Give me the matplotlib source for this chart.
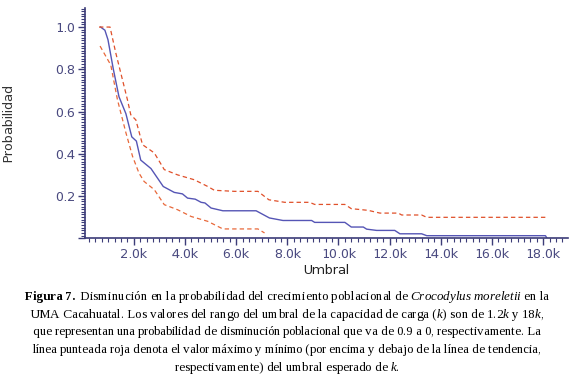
import matplotlib

matplotlib.use("Agg")
import matplotlib.pyplot as plt
from matplotlib.ticker import FuncFormatter, MultipleLocator

# trend (blue) line, threshold in k vs probability
trend_x = [0.70, 0.87, 0.99, 1.20, 1.42, 1.69, 1.92, 2.10, 2.27, 2.67, 3.15, 3.58, 3.90,
           4.10, 4.40, 4.63, 4.78, 5.02, 5.48, 6.78, 7.30, 7.83, 8.95, 9.07, 10.25, 10.50,
           10.97, 11.10, 11.49, 12.20, 12.40, 13.25, 13.45, 18.09, 18.15]
trend_y = [1.00, 0.985, 0.94, 0.80, 0.67, 0.59, 0.48, 0.46, 0.37, 0.33, 0.245, 0.217, 0.21,
           0.19, 0.185, 0.17, 0.167, 0.143, 0.13, 0.13, 0.096, 0.084, 0.084, 0.075, 0.075, 0.053,
           0.053, 0.043, 0.037, 0.037, 0.021, 0.021, 0.012, 0.012, 0.0]

# upper limit (red dashed)
upper_x = [0.64, 1.07, 1.29, 1.75, 1.88, 2.08, 2.34, 2.80, 3.19, 3.71, 4.36, 4.89, 5.15,
           5.93, 6.85, 7.28, 7.90, 8.87, 9.07, 10.25, 10.50, 11.16, 11.62, 12.34, 12.47,
           13.25, 13.45, 18.16]
upper_y = [1.00, 1.00, 0.88, 0.656, 0.585, 0.56, 0.443, 0.404, 0.325, 0.30, 0.277, 0.245, 0.227,
           0.222, 0.222, 0.182, 0.17, 0.17, 0.16, 0.16, 0.14, 0.132, 0.119, 0.119, 0.11,
           0.11, 0.099, 0.099]

# lower limit (red dashed)
lower_x = [0.68, 1.10, 1.36, 1.69, 1.95, 2.20, 2.40, 2.80, 3.19, 3.71, 4.24, 4.89, 5.48, 6.85, 7.11]
lower_y = [0.91, 0.82, 0.656, 0.50, 0.388, 0.309, 0.269, 0.23, 0.159, 0.135, 0.103, 0.08, 0.044,
           0.044, 0.025]

caption_lines = [
    r"$\mathbf{Figura\ 7.}$ Disminución en la probabilidad del crecimiento poblacional de "
    r"$\mathit{Crocodylus\ moreletii}$ en la",
    r"UMA Cacahuatal. Los valores del rango del umbral de la capacidad de carga ($\mathit{k}$) "
    r"son de 1.2$\mathit{k}$ y 18$\mathit{k}$,",
    "que representan una probabilidad de disminución poblacional que va de 0.9 a 0, "
    "respectivamente. La",
    "línea punteada roja denota el valor máximo y mínimo (por encima y debajo de la línea de "
    "tendencia,",
    r"respectivamente) del umbral esperado de $\mathit{k}$.",
]

plt.rcParams["text.hinting_factor"] = 1
plt.rcParams["mathtext.fontset"] = "custom"
plt.rcParams["mathtext.rm"] = "Liberation Serif"
plt.rcParams["mathtext.it"] = "Liberation Serif:italic"
plt.rcParams["mathtext.bf"] = "Liberation Serif:bold"

navy = "#3c3c78"
fig = plt.figure(figsize=(5.74, 3.83), dpi=100)
ax = fig.add_axes([0.148, 0.378, 0.8415, 0.601])

ax.plot(trend_x, trend_y, color="#5555b5", lw=1.0)
ax.plot(upper_x, upper_y, color="#e0502a", lw=0.9, dashes=(3.5, 2.5))
ax.plot(lower_x, lower_y, color="#e8683a", lw=0.9, dashes=(3.5, 2.5))

ax.set_xlim(0.09, 18.97)
ax.set_ylim(0, 1.09)
ax.xaxis.set_major_locator(MultipleLocator(2))
ax.xaxis.set_minor_locator(MultipleLocator(0.25))
ax.yaxis.set_major_locator(MultipleLocator(0.2))
ax.yaxis.set_minor_locator(MultipleLocator(0.0125))
ax.xaxis.set_major_formatter(FuncFormatter(lambda v, p: f"{v:.1f}k" if v > 0 else ""))
ax.yaxis.set_major_formatter(FuncFormatter(lambda v, p: f"{v:.1f}" if v > 0.01 else ""))

for s in ["top", "right"]:
    ax.spines[s].set_visible(False)
for s in ["left", "bottom"]:
    ax.spines[s].set_color(navy)
    ax.spines[s].set_linewidth(1.2)
ax.tick_params(which="major", length=5, width=1, color=navy, labelcolor="#4a4a80",
               labelsize=9, pad=2)
ax.tick_params(which="minor", length=3, width=0.8, color=navy)

ax.set_xlabel("Umbral", fontsize=9, color="#222222", labelpad=2)
ax.set_ylabel("Probabilidad", fontsize=9, color="#333333")
ax.yaxis.set_label_coords(-0.145, 0.5)

for i, line in enumerate(caption_lines):
    fig.text(0.5, 1 - (297 + 17.7 * i) / 383, line, ha="center", va="center",
             fontsize=9.45, family="Liberation Serif", color="black")

fig.savefig("out.png", dpi=100)
